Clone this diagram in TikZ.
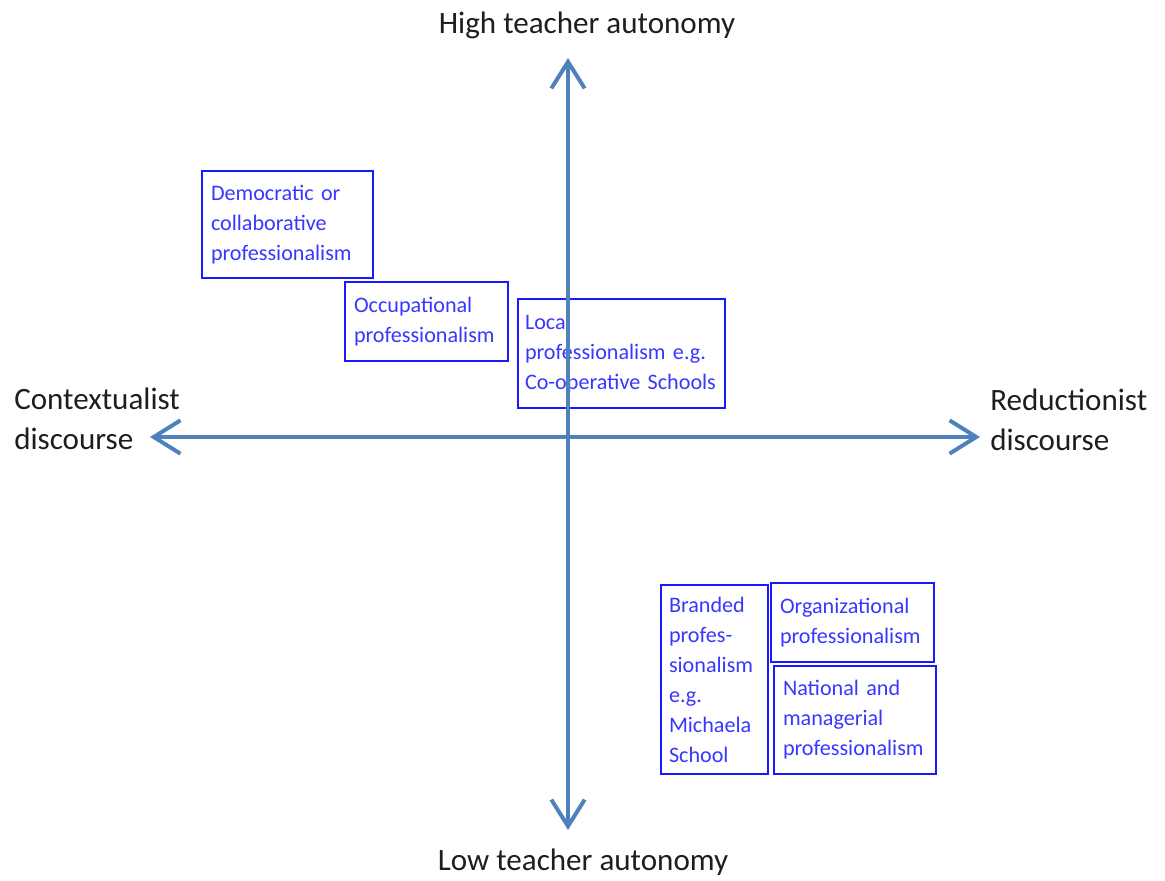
\documentclass[tikz,border=0pt]{standalone}
\usepackage{fontspec}
\setmainfont{Carlito}
\usetikzlibrary{arrows.meta}
\definecolor{axisblue}{RGB}{79,129,189}
\definecolor{boxblue}{RGB}{25,25,255}
\definecolor{txtblue}{RGB}{55,55,255}
\definecolor{labelgray}{RGB}{30,30,30}
\begin{document}
\begin{tikzpicture}[x=0.75pt,y=-0.75pt,
  axis/.style={draw=axisblue,line width=3pt,
    {Straight Barb[length=20pt,width=25pt]}-{Straight Barb[length=20pt,width=25pt]}},
  axislabel/.style={text=labelgray,font=\fontsize{23.3pt}{30pt}\selectfont,inner sep=0pt},
  pbox/.style={draw=boxblue,line width=1.5pt,text=txtblue,
    font=\fontsize{16.6pt}{22.5pt}\selectfont,align=left,anchor=north west,
    inner xsep=6.75pt,inner ysep=0pt}]
\useasboundingbox (0,0) rectangle (1165,881);

% quadrant boxes
\node[pbox,text width=114.75pt,minimum height=80.25pt] (demo) at (201,170)
  {Democratic or\\collaborative\\professionalism};
\node[pbox,text width=108.75pt,minimum height=59.25pt] (occ) at (344,281)
  {Occupational\\professionalism};
\node[pbox,text width=144.75pt,minimum height=81.75pt,inner xsep=5.25pt] (local) at (517,298)
  {Local\\\mbox{professionalism e.g.}\\\mbox{Co-operative Schools}};
\node[pbox,text width=68.25pt,minimum height=141.75pt,inner xsep=6pt] (brand) at (660,584)
  {Branded\\profes-\\sionalism\\e.g.\\Michaela\\School};
\node[pbox,text width=108.75pt,minimum height=59.25pt] (org) at (770,582)
  {Organizational\\professionalism};
\node[pbox,text width=108pt,minimum height=81pt] (nat) at (773,665)
  {National and\\managerial\\\mbox{professionalism}};

% axes
\coordinate (top) at (568,58);
\coordinate (bottom) at (568,830);
\coordinate (left) at (150,437);
\coordinate (right) at (980,437);
\draw[axis] (bottom) -- (top);
\draw[axis] (left) -- (right);

% axis labels
\node[axislabel] (high) at (587,25) {High teacher autonomy};
\node[axislabel] (low) at (583,862) {Low teacher autonomy};
\node[axislabel,anchor=west,align=left] (ctx) at (14,419) {Contextualist\\discourse};
\node[axislabel,anchor=west,align=left] (red) at (990,420) {Reductionist\\discourse};
\end{tikzpicture}
\end{document}
